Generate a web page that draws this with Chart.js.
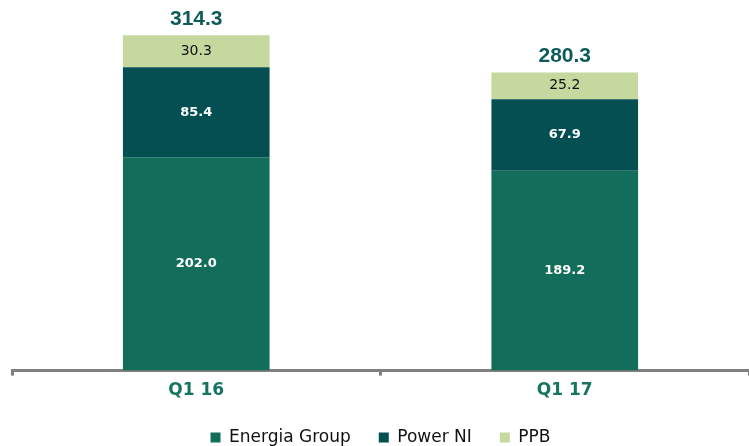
<!DOCTYPE html>
<html>
<head>
<meta charset="utf-8">
<script src="https://cdn.jsdelivr.net/npm/chart.js@4.4.0/dist/chart.umd.min.js"></script>
<style>
  html, body { margin: 0; padding: 0; background: #fff; }
  #wrap { width: 749px; height: 446px; }
</style>
</head>
<body>
<div id="wrap"><canvas id="chart" width="749" height="446"></canvas></div>
<script>
// ============================================
// DATA
// ============================================

const categories = ['Q1 16', 'Q1 17'];
const energiaGroup = [202.0, 189.2];
const powerNI = [85.4, 67.9];
const ppb = [30.3, 25.2];
const totals = [314.3, 280.3];

const NARROW = '"Liberation Sans", Arial, sans-serif';
const WIDE = '"DejaVu Sans", sans-serif';

// ============================================
// LABEL PLUGIN
// ============================================

const labelPlugin = {
    id: 'barLabels',
    afterDatasetsDraw(chart) {
        const ctx = chart.ctx;
        ctx.save();
        ctx.textAlign = 'center';
        ctx.textBaseline = 'middle';
        chart.data.datasets.forEach((ds, di) => {
            const meta = chart.getDatasetMeta(di);
            meta.data.forEach((bar, i) => {
                const midY = (bar.y + bar.base) / 2;
                ctx.fillStyle = ds.labelColor;
                ctx.font = ds.labelFont;
                ctx.fillText(ds.data[i].toFixed(1), bar.x, midY);
            });
        });
        // totals above the stack
        const top = chart.getDatasetMeta(chart.data.datasets.length - 1);
        top.data.forEach((bar, i) => {
            ctx.fillStyle = '#0d5c5a';
            ctx.font = 'bold 21px ' + NARROW;
            ctx.fillText(totals[i].toFixed(1), bar.x, bar.y - 16);
        });
        ctx.restore();
    }
};

// ============================================
// CHART
// ============================================

new Chart(document.getElementById('chart').getContext('2d'), {
    type: 'bar',
    data: {
        labels: categories,
        datasets: [
            {
                label: 'Energia Group',
                data: energiaGroup,
                backgroundColor: '#126e5a',
                labelColor: '#ffffff',
                labelFont: 'bold 13px ' + WIDE
            },
            {
                label: 'Power NI',
                data: powerNI,
                backgroundColor: '#034f52',
                labelColor: '#ffffff',
                labelFont: 'bold 13px ' + WIDE
            },
            {
                label: 'PPB',
                data: ppb,
                backgroundColor: '#c5d89e',
                labelColor: '#111111',
                labelFont: '14px ' + WIDE
            }
        ]
    },
    options: {
        responsive: false,
        animation: false,
        layout: { padding: { left: 12, right: 0, top: 0, bottom: -10 } },
        datasets: {
            bar: { categoryPercentage: 0.398, barPercentage: 1.0, borderWidth: 0 }
        },
        plugins: {
            legend: {
                position: 'bottom',
                labels: {
                    boxWidth: 10,
                    boxHeight: 10,
                    padding: 28,
                    color: '#111111',
                    font: { family: WIDE, size: 17 }
                }
            },
            tooltip: { enabled: false }
        },
        scales: {
            x: {
                stacked: true,
                border: { display: true, color: '#808080', width: 3 },
                grid: {
                    display: true,
                    drawOnChartArea: false,
                    drawTicks: true,
                    tickLength: 5,
                    color: '#808080',
                    lineWidth: 3,
                    offset: true
                },
                ticks: {
                    color: '#157560',
                    padding: 5,
                    font: { family: WIDE, size: 17, weight: 'bold' }
                },
                afterFit(scale) { scale.height -= 5; }
            },
            y: {
                stacked: true,
                display: false,
                min: 0,
                max: 351
            }
        }
    },
    plugins: [labelPlugin]
});
</script>
</body>
</html>
